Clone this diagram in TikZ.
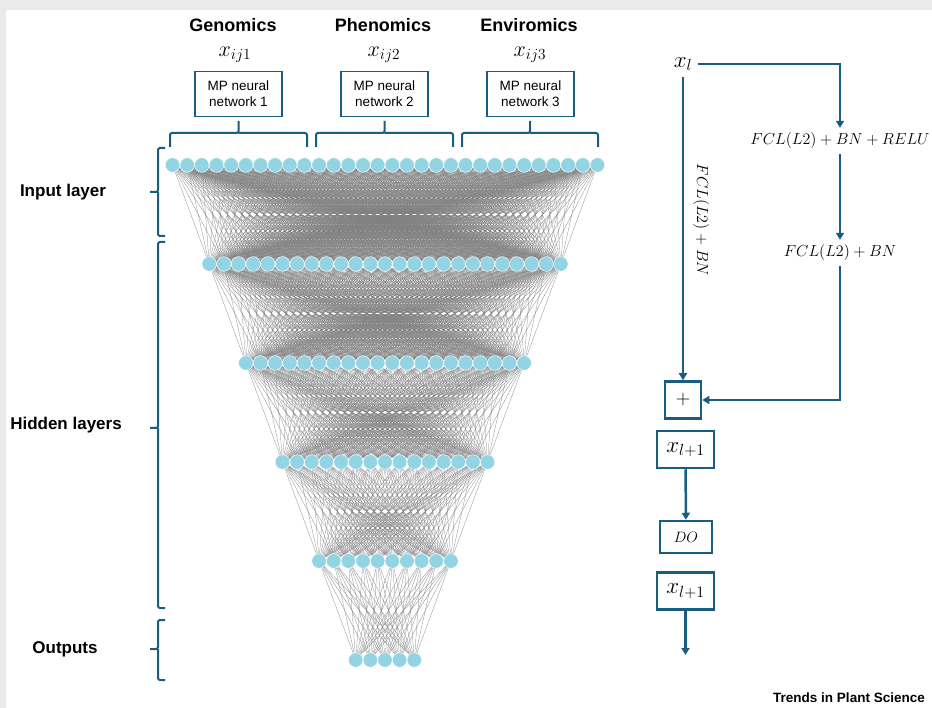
\RequirePackage{fix-cm}
\documentclass[tikz,border=0pt]{standalone}
\usepackage{fontspec}
\setmainfont{Liberation Sans}
\usetikzlibrary{arrows.meta,backgrounds,positioning}
\definecolor{tealblue}{RGB}{24,94,128}
\definecolor{unitblue}{RGB}{146,212,228}
\definecolor{framegray}{RGB}{233,234,236}
\tikzset{
  neuron/.style={circle,fill=unitblue,draw=white,line width=.5pt,minimum size=14.6pt,inner sep=0pt},
  link/.style={black!50,line width=.25pt},
  brk/.style={tealblue,line width=2pt,rounded corners=2pt},
  mpbox/.style={draw=tealblue,line width=1.2pt,minimum width=87pt,minimum height=45pt,align=center,font=\fontsize{13.5}{16}\selectfont},
  opbox/.style={draw=tealblue,line width=2.5pt,inner sep=0pt,minimum height=37pt},
  flow/.style={tealblue,line width=2.5pt,-{Triangle[length=7pt,width=8pt]}},
  omics/.style={font=\bfseries\fontsize{18}{20}\selectfont},
  layerlabel/.style={font=\bfseries\fontsize{17}{20}\selectfont},
  eq/.style={font=\fontsize{16}{18}\selectfont,inner sep=5pt},
}
\begin{document}
\begin{tikzpicture}[x=1pt,y=-1pt]
\useasboundingbox (0,0) rectangle (932,708);

% network layers
\foreach \n/\y [count=\l] in {30/165,25/264,20/363,15/462,10/561,5/660}
  \foreach \i in {1,...,\n}
    \node[neuron] (n\l-\i) at ({385+(\i-(\n+1)/2)*14.65},\y) {};

\begin{pgfonlayer}{background}
\fill[framegray] (0,0) rectangle (932,708);
\fill[white] (6,10.5) rectangle (932,708);
\foreach \a/\na/\b/\nb in {1/30/2/25,2/25/3/20,3/20/4/15,4/15/5/10,5/10/6/5}
  \foreach \i in {1,...,\na}
    \foreach \j in {1,...,\nb}
      \draw[link] (n\a-\i.center) -- (n\b-\j.center);
\end{pgfonlayer}

% inputs on top
\node[omics] (g) at (233,25) {Genomics};
\node[omics] (p) at (383,25) {Phenomics};
\node[omics] (e) at (529,25) {Enviromics};
\foreach \xx/\k in {235/1,384/2,530/3}
  \node[font=\fontsize{22}{24}\selectfont] (x\k) at (\xx,55) {$x_{ij\k}$};
\foreach \xx/\k in {238.5/1,384.5/2,530.5/3}
  \node[mpbox] (mp\k) at (\xx,94) {MP neural\\network \k};
\foreach \xa/\xb in {170/307,316/453,462/598}
  \draw[brk] (\xa,147) -- (\xa,133) -- ({(\xa+\xb)/2},133) -- ({(\xa+\xb)/2},121)
    ({(\xa+\xb)/2},133) -- (\xb,133) -- (\xb,147);

% left side
\foreach \ya/\yb/\ym in {148/236/192,242/608/428,620/680/649}
  \draw[brk] (165,\ya) -- (158,\ya) -- (158,\ym) -- (150,\ym)
    (158,\ym) -- (158,\yb) -- (165,\yb);
\node[layerlabel] (inl) at (63,192) {Input layer};
\node[layerlabel] (hdl) at (66,425) {Hidden layers};
\node[layerlabel] (outl) at (65,649) {Outputs};

% residual block
\node[font=\fontsize{23}{24}\selectfont,inner sep=6pt] (xl) at (683,64) {$x_l$};
\node[eq] (fcl1) at (840,141) {$FCL(L2)+BN+RELU$};
\node[eq] (fcl2) at (840,253) {$FCL(L2)+BN$};
\node[eq,rotate=-90] (skip) at (701,220) {$FCL(L2)+BN$};
\node[opbox,minimum width=36pt,font=\fontsize{20}{20}\selectfont] (plus) at (683,400) {$+$};
\node[opbox,minimum width=57pt,font=\fontsize{23}{24}\selectfont] (xa) at (685.5,449.5) {$x_{l+1}$};
\node[opbox,minimum width=52pt,minimum height=32pt,font=\fontsize{15}{16}\selectfont] (do) at (686,537) {$DO$};
\node[opbox,minimum width=57pt,font=\fontsize{23}{24}\selectfont] (xb) at (685.5,591) {$x_{l+1}$};
\coordinate (out) at (685.5,655);

\draw[flow] (xl) -- (plus);
\draw[flow] (xl.east) -| (fcl1.north);
\draw[flow] (fcl1) -- (fcl2);
\draw[flow] (fcl2) |- (plus);
\draw[flow] (xa) -- (do);
\draw[flow] (xb) -- (out);

\node[font=\bfseries\fontsize{13.5}{15}\selectfont] (brand) at (849,698) {Trends in Plant Science};
\end{tikzpicture}
\end{document}
